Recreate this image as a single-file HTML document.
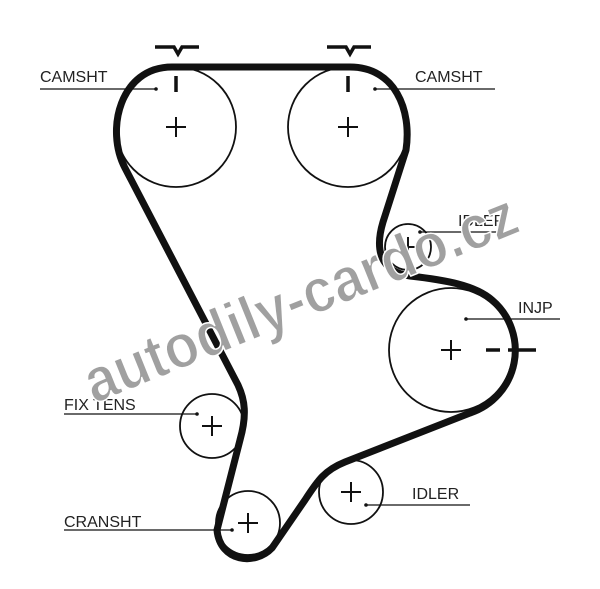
<!DOCTYPE html>
<html><head><meta charset="utf-8"><style>
html,body{margin:0;padding:0;background:#fff;}
svg{display:block;}
text{font-family:"Liberation Sans",sans-serif;}
</style></head><body>
<svg width="600" height="589" viewBox="0 0 600 589">
<g fill="none" stroke="#111" stroke-width="1.8">
<circle cx="176" cy="127" r="60"/>
<circle cx="348" cy="127" r="60"/>
<circle cx="408" cy="247" r="23"/>
<circle cx="451" cy="350" r="62"/>
<circle cx="212" cy="426" r="32"/>
<circle cx="248" cy="523" r="32"/>
<circle cx="351" cy="492" r="32"/>
</g>
<g stroke="#111" stroke-width="2">
<path d="M166 127h20M176 117v20M338 127h20M348 117v20M398 247h20M408 237v20M441 350h20M451 340v20M202 426h20M212 416v20M238 523h20M248 513v20M341 492h20M351 482v20"/>
</g>
<path d="M172 67 L350 67 C395 67 412 110 406 150 L383 222 C374 252 382 272 410 276 C445 280 475 285 492 300 A66 66 0 0 1 470 413 L345 462 C325 470 318 480 305 500 L272 548 C255 566 220 562 217 530 L240 440 C247 415 245 400 238 385 L125 168 C105 130 120 67 172 67 Z" fill="none" stroke="#111" stroke-width="7" stroke-linejoin="round"/>
<g stroke="#111" stroke-width="3.5" fill="none">
<path d="M155 47h19l4 7 4-7h17"/>
<path d="M327 47h19l4 7 4-7h17"/>
<path d="M176 76v16M348 76v16"/>
<path d="M486 350h14M508 350h28"/>
</g>
<g stroke="#111" stroke-width="1.3">
<path d="M40 89h116M375 89h120M420 232h96M466 319h94M64 414h133M366 505h104M64 530h168"/>
</g>
<g fill="#111">
<circle cx="156" cy="89" r="1.8"/><circle cx="375" cy="89" r="1.8"/><circle cx="420" cy="232" r="1.8"/><circle cx="466" cy="319" r="1.8"/><circle cx="197" cy="414" r="1.8"/><circle cx="366" cy="505" r="1.8"/><circle cx="232" cy="530" r="1.8"/>
</g>
<g font-size="16" fill="#222">
<text x="40" y="82">CAMSHT</text>
<text x="415" y="82">CAMSHT</text>
<text x="458" y="226">IDLER</text>
<text x="518" y="313">INJP</text>
<text x="64" y="410">FIX TENS</text>
<text x="412" y="499">IDLER</text>
<text x="64" y="527">CRANSHT</text>
</g>
<text x="0" y="0" transform="translate(94,404) rotate(-22)" font-size="62" font-weight="bold" fill="#a0a0a0" stroke="#fff" stroke-width="1.5" textLength="462" lengthAdjust="spacingAndGlyphs">autodily-cardo.cz</text>
</svg>
</body></html>
